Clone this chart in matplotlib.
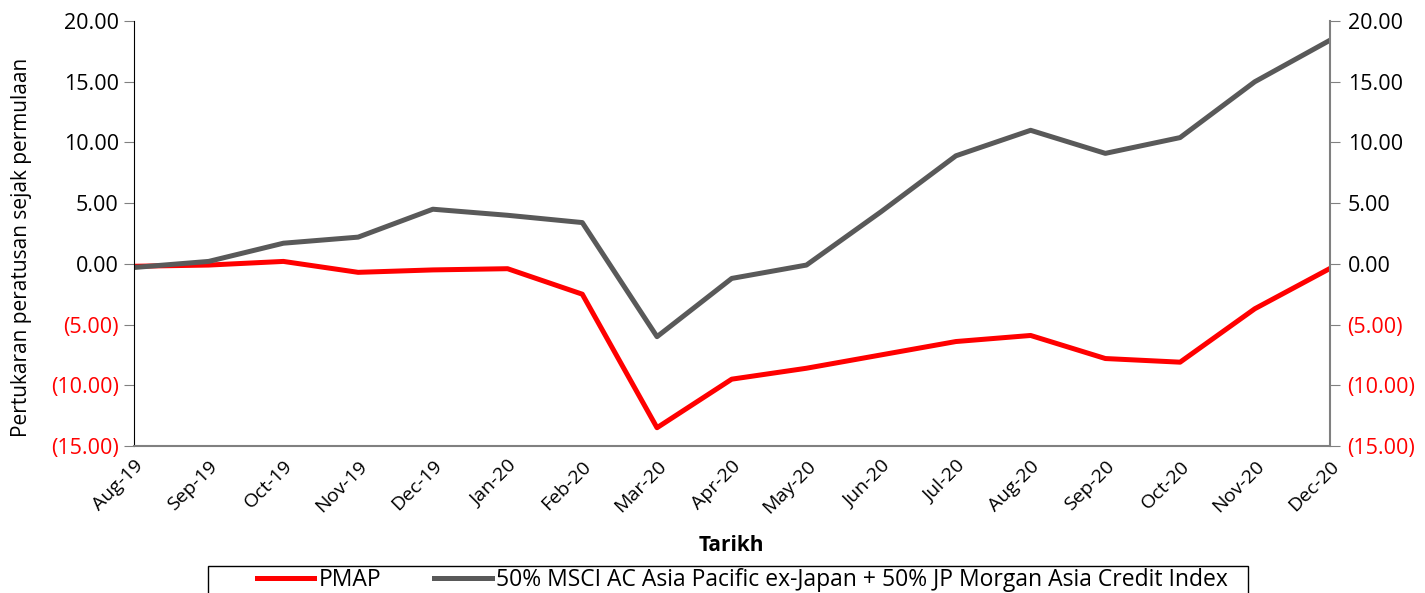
import matplotlib.pyplot as plt
from matplotlib.patches import Rectangle
from matplotlib.ticker import FuncFormatter

plt.rcParams['font.family'] = ['Open Sans', 'DejaVu Sans']

months = ['Aug-19', 'Sep-19', 'Oct-19', 'Nov-19', 'Dec-19', 'Jan-20', 'Feb-20',
          'Mar-20', 'Apr-20', 'May-20', 'Jun-20', 'Jul-20', 'Aug-20', 'Sep-20',
          'Oct-20', 'Nov-20', 'Dec-20']
pmap = [-0.2, -0.1, 0.2, -0.7, -0.5, -0.4, -2.5, -13.5, -9.5, -8.6, -7.5,
        -6.4, -5.9, -7.8, -8.1, -3.7, -0.4]
benchmark = [-0.3, 0.2, 1.7, 2.2, 4.5, 4.0, 3.4, -6.0, -1.2, -0.1, 4.3,
             8.9, 11.0, 9.1, 10.4, 15.0, 18.4]
yticks = [-15, -10, -5, 0, 5, 10, 15, 20]


def fmt(v, pos):
    if v < 0:
        return '({:.2f})'.format(-v)
    return '{:.2f}'.format(v)


fig = plt.figure(figsize=(14.25, 5.93), dpi=100)
ax = fig.add_axes([0.094, 0.248, 0.839, 0.7165])
x = list(range(len(months)))
ax.plot(x, pmap, color='#ff0000', lw=3.6, label='PMAP')
ax.plot(x, benchmark, color='#595959', lw=3.6,
        label='50% MSCI AC Asia Pacific ex-Japan + 50% JP Morgan Asia Credit Index')

ax.set_xlim(0, len(months) - 1)
ax.set_ylim(-15, 20)
ax.set_yticks(yticks)
ax.yaxis.set_major_formatter(FuncFormatter(fmt))
ax.set_xticks(x)
ax.set_xticklabels(months, rotation=45, ha='right', rotation_mode='anchor', fontsize=14)
ax.tick_params(axis='x', length=0, pad=8)
ax.tick_params(axis='y', labelsize=15.5, length=7, color='#808080', pad=4)

ax2 = ax.twinx()
ax2.set_ylim(-15, 20)
ax2.set_yticks(yticks)
ax2.yaxis.set_major_formatter(FuncFormatter(fmt))
ax2.tick_params(axis='y', labelsize=15.5, length=7, color='#808080', pad=6)

for a in (ax, ax2):
    a.spines['top'].set_visible(False)
    for lbl in a.get_yticklabels():
        if '(' in lbl.get_text():
            lbl.set_color('#ff0000')
ax.spines['left'].set_color('black')
ax.spines['bottom'].set_color('#808080')
ax.spines['right'].set_visible(False)
ax2.spines['left'].set_visible(False)
ax2.spines['bottom'].set_visible(False)
ax2.spines['right'].set_color('#808080')
ax2.spines['right'].set_linewidth(1.5)
ax.spines['bottom'].set_linewidth(1.5)

ax.set_ylabel('Pertukaran peratusan sejak permulaan', fontsize=15)
ax.yaxis.set_label_coords(-0.085, 0.468)
ax.set_xlabel('Tarikh', fontsize=15, fontweight='bold', labelpad=13)

# legend without its own frame, box drawn separately so it can run off the bottom
leg = fig.legend(loc='center left', bbox_to_anchor=(257 / 1425, 1 - 580 / 593), ncol=2,
                 frameon=False, fontsize=16.5, handlelength=2.5,
                 handletextpad=0.2, columnspacing=2.3, borderpad=0,
                 borderaxespad=0)
fig.patches.append(Rectangle((208 / 1425, -0.05), 1040 / 1425, 0.05 + 27 / 593,
                             transform=fig.transFigure, fill=False,
                             edgecolor='black', linewidth=1.0))

fig.savefig('out.png', dpi=100)
